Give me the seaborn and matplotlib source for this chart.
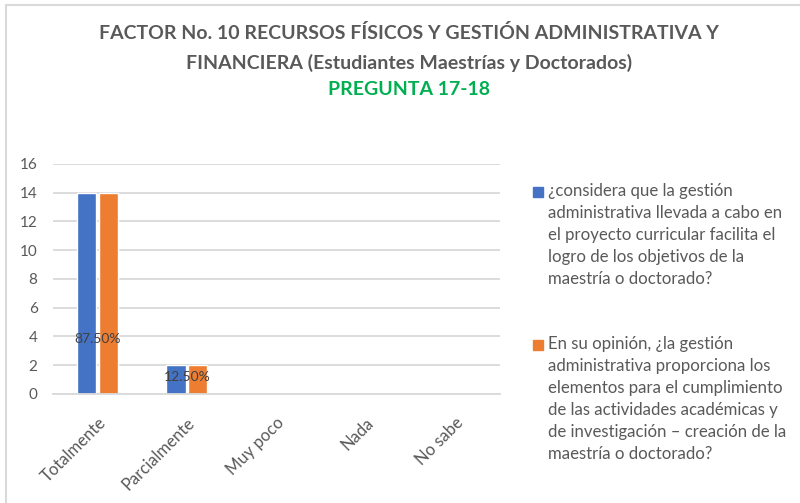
import pandas as pd
import seaborn as sns
import matplotlib.pyplot as plt
from matplotlib.patches import Rectangle
from matplotlib.lines import Line2D

categories = ["Totalmente", "Parcialmente", "Muy poco", "Nada", "No sabe"]
serie_1 = [14, 2, 0, 0, 0]
serie_2 = [14, 2, 0, 0, 0]
pct_labels = ["87.50%", "12.50%", "", "", ""]
pct_label_y = [3.8, 1.2, 0, 0, 0]

series_names = [
    "¿considera que la gestión\nadministrativa llevada a cabo en\nel proyecto curricular facilita el\nlogro de los objetivos de la\nmaestría o doctorado?",
    "En su opinión, ¿la gestión\nadministrativa proporciona los\nelementos para el cumplimiento\nde las actividades académicas y\nde investigación – creación de la\nmaestría o doctorado?",
]
colors = ["#4472C4", "#ED7D31"]

sns.set_theme(style="white")
plt.rcParams["font.family"] = ["Lato", "DejaVu Sans"]

df = pd.DataFrame({
    "cat": categories * 2,
    "val": serie_1 + serie_2,
    "serie": [series_names[0]] * 5 + [series_names[1]] * 5,
})

fig = plt.figure(figsize=(8, 5.03), dpi=100)
ax = fig.add_axes([0.066, 0.2167, 0.559, 0.4573])

sns.barplot(data=df, x="cat", y="val", hue="serie", palette=colors,
            width=0.49, gap=0.13, ax=ax, legend=False, saturation=1)

ax.set_ylim(0, 16)
ax.set_yticks(range(0, 17, 2))
ax.yaxis.grid(True, color="#D9D9D9", linewidth=1.3)
ax.set_axisbelow(True)
for s in ["left", "right", "top"]:
    ax.spines[s].set_visible(False)
ax.spines["bottom"].set_color("#D9D9D9")
ax.spines["bottom"].set_linewidth(1.3)
ax.set_xlabel("")
ax.set_ylabel("")
ax.tick_params(axis="y", length=0, pad=11, labelsize=11, labelcolor="#595959")
ax.tick_params(axis="x", length=0, pad=15, labelsize=12, labelcolor="#595959")
plt.setp(ax.get_xticklabels(), rotation=45, ha="right", va="top", rotation_mode="anchor")

for i, lab in enumerate(pct_labels):
    if lab:
        ax.text(i, pct_label_y[i], lab, ha="center", va="center", fontsize=10, color="#404040")

# title
fig.text(0.511, 0.934, "FACTOR No. 10 RECURSOS FÍSICOS Y GESTIÓN ADMINISTRATIVA Y",
         ha="center", va="center", fontsize=14, fontweight="bold", color="#595959")
fig.text(0.511, 0.874, "FINANCIERA (Estudiantes Maestrías y Doctorados)",
         ha="center", va="center", fontsize=14, fontweight="bold", color="#595959")
fig.text(0.511, 0.823, "PREGUNTA 17-18",
         ha="center", va="center", fontsize=14, fontweight="bold", color="#00B050")

# legend drawn by hand so the marker sits on the first line
leg_first_line = [0.618, 0.314]
for k in range(2):
    yc = leg_first_line[k]
    fig.add_artist(Rectangle((0.666, yc - 0.01), 0.0125, 0.02, transform=fig.transFigure,
                             color=colors[k]))
    fig.text(0.685, yc + 0.019, series_names[k], ha="left", va="top", fontsize=12.1,
             color="#595959", linespacing=1.47)

# chart border (top and left visible)
fig.add_artist(Line2D([0.0075, 1.0], [0.99, 0.99], transform=fig.transFigure, color="#D9D9D9", lw=1.5))
fig.add_artist(Line2D([0.0075, 0.0075], [0.0, 0.99], transform=fig.transFigure, color="#D9D9D9", lw=1.5))

fig.savefig("out.png", dpi=100)
